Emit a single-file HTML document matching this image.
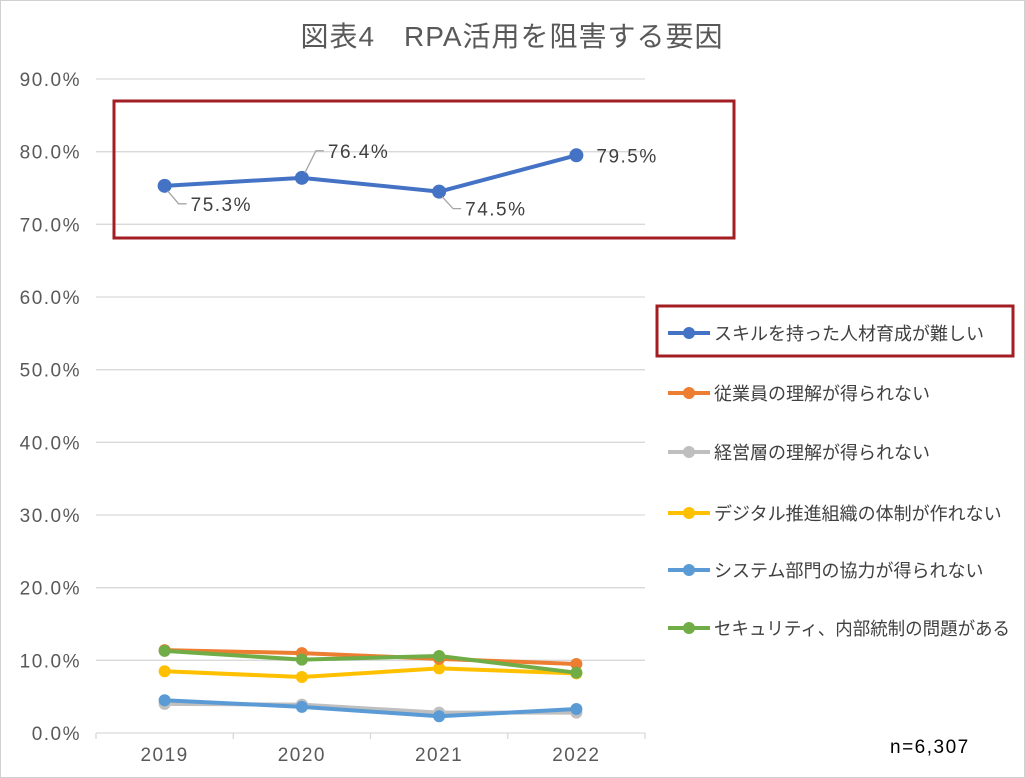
<!DOCTYPE html>
<html><head><meta charset="utf-8"><style>
body{margin:0;background:#fff}
svg{display:block;font-family:"Liberation Sans","Noto Sans CJK JP",sans-serif}
</style></head><body>
<svg id="c" width="1025" height="778">
<rect x="0.5" y="0.5" width="1024" height="777" fill="#fff" stroke="#d0d0d0"/>
<text x="512" y="46" text-anchor="middle" font-size="28" fill="#595959" letter-spacing="1">図表4　RPA活用を阻害する要因</text>
<g id="grid"></g><g id="series"></g><g id="legend"></g>
<rect x="114" y="101" width="620" height="137" fill="none" stroke="#a31e22" stroke-width="3"/>
<rect x="657" y="306" width="356" height="50" fill="none" stroke="#a31e22" stroke-width="3"/>
<text x="890" y="753" font-size="19" letter-spacing="1.5" fill="#000">n=6,307</text>
</svg>
<script>
const categories=["2019","2020","2021","2022"];
const yTicks=[0,10,20,30,40,50,60,70,80,90];
const seriesNames=["スキルを持った人材育成が難しい","従業員の理解が得られない","経営層の理解が得られない","デジタル推進組織の体制が作れない","システム部門の協力が得られない","セキュリティ、内部統制の問題がある"];
const seriesColors=["#4472c4","#ed7d31","#bfbfbf","#ffc000","#5b9bd5","#70ad47"];
const s0=[75.3,76.4,74.5,79.5];
const s1=[11.4,11.0,10.2,9.5];
const s2=[4.0,3.9,2.8,2.8];
const s3=[8.5,7.7,8.9,8.2];
const s4=[4.5,3.6,2.3,3.3];
const s5=[11.3,10.1,10.6,8.3];
const seriesValues=[s0,s1,s2,s3,s4,s5];
const labels0=["75.3%","76.4%","74.5%","79.5%"];
const NS="http://www.w3.org/2000/svg";
const x0=96,x1=645,yB=733,yT=79;
const y=v=>yB-(v/90)*(yB-yT);
const bw=(x1-x0)/categories.length;
const x=i=>x0+bw*(i+0.5);
function mk(t,a,p){const e=document.createElementNS(NS,t);for(const k in a)e.setAttribute(k,a[k]);p.appendChild(e);return e;}
const g=document.getElementById('grid');
yTicks.forEach(v=>{
 const l=mk('line',{x1:x0,x2:x1,y1:y(v),y2:y(v),stroke:'#d9d9d9','stroke-width':1.3},g);
 
 
 const t=mk('text',{x:81,y:y(v)+7,'text-anchor':'end','font-size':19,'letter-spacing':1.5,fill:'#595959'},g);
 t.textContent=v.toFixed(1)+'%';
 
 
});
for(let i=0;i<=categories.length;i++){
 const l=mk('line',{x1:x0+bw*i,x2:x0+bw*i,y1:yB,y2:yB+6,stroke:'#d9d9d9','stroke-width':1.3},g);
 
 
}
categories.forEach((c,i)=>{
 const t=mk('text',{x:x(i),y:761,'text-anchor':'middle','font-size':19,'letter-spacing':1.5,fill:'#595959'},g);
 t.textContent=c;
 
 
});
const sg=document.getElementById('series');
const order=[2,4,3,1,5,0];
order.forEach(k=>{
 const vals=seriesValues[k];
 const p=mk('polyline',{points:vals.map((v,i)=>x(i)+','+y(v)).join(' '),fill:'none',stroke:seriesColors[k],'stroke-width':4,'stroke-linejoin':'round'},sg);
 
 
 vals.forEach((v,i)=>{
  const c=mk('circle',{cx:x(i),cy:y(v),r:k==0?7:6,fill:seriesColors[k]},sg);
  
  
 });
});
const off=[18,-27,17,0];
s0.forEach((v,i)=>{
 const px=x(i),py=y(v);
 let tx,ty;
 if(i==3){tx=px+20;ty=py+7;}
 else{
  const d=off[i];
  const ex=px+14,ey=py+d;
  const l=mk('polyline',{points:`${px+3},${py+Math.sign(d)*5} ${ex},${ey} ${ex+8},${ey}`,fill:'none',stroke:'#a5a5a5','stroke-width':1.3},sg);
  
  
  tx=ex+12;ty=ey+7;
 }
 const t=mk('text',{x:tx,y:ty,'font-size':19,'letter-spacing':1.5,fill:'#404040'},sg);
 t.textContent=labels0[i];
 
 
});
const lg=document.getElementById('legend');
const ly=[333,393,452,513,570,628];
seriesNames.forEach((n,k)=>{
 const l=mk('line',{x1:668,x2:710,y1:ly[k],y2:ly[k],stroke:seriesColors[k],'stroke-width':4},lg);
 
 
 const c=mk('circle',{cx:689,cy:ly[k],r:6,fill:seriesColors[k]},lg);
 
 
 const t=mk('text',{x:714,y:ly[k]+7,'font-size':18,fill:'#404040'},lg);
 t.textContent=n;
 if(k==5){t.setAttribute('textLength','296');t.setAttribute('lengthAdjust','spacingAndGlyphs');}
 
 
});
</script>
</body></html>
